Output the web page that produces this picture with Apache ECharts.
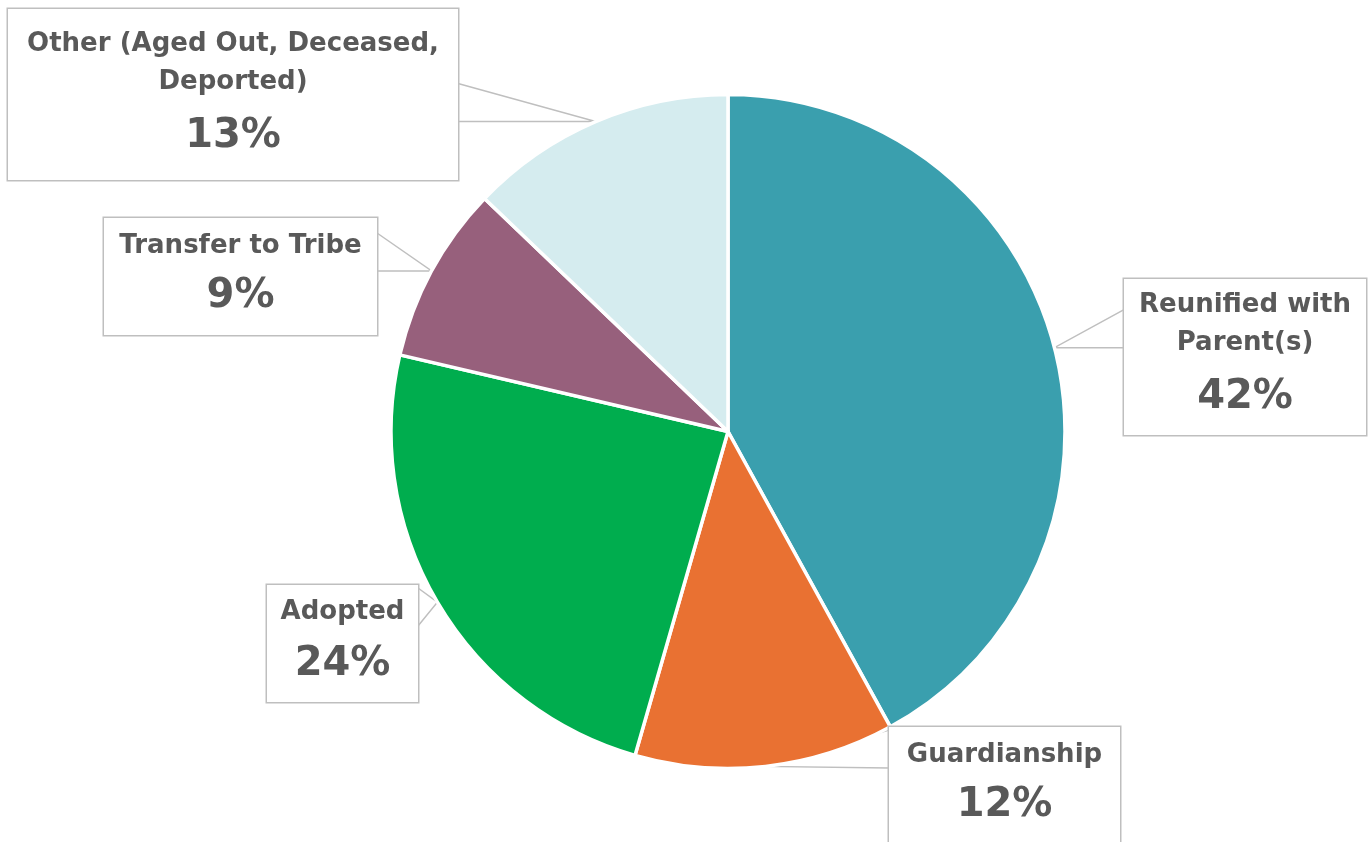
<!DOCTYPE html>
<html><head><meta charset="utf-8">
<script src="https://cdn.jsdelivr.net/npm/echarts@6/dist/echarts.min.js"></script>
<style>html,body{margin:0;padding:0;background:#fff}#c{width:1371px;height:842px}</style>
</head><body><div id="c"></div>
<script>
const categories = ['Reunified with Parent(s)', 'Guardianship', 'Adopted', 'Transfer to Tribe', 'Other (Aged Out, Deceased, Deported)'];
const values = [42.0, 12.45, 24.2, 8.5, 12.85];
const labelTexts = [['Reunified with', 'Parent(s)'], ['Guardianship'], ['Adopted'], ['Transfer to Tribe'], ['Other (Aged Out, Deceased,', 'Deported)']];
const colors = ['#3A9FAE', '#E97132', '#00AD4E', '#97607C', '#D5ECEF'];
// label box layout (style only): [centerX, centerY, width, padTop, pctLineHeight, padBottom]
const boxLayout = [
  [1245, 357, 242, 7, 72, 1],
  [1004.5, 785.5, 231, 9, 64, 6],
  [342.5, 643.5, 151, 8, 68, 3],
  [240.5, 276.5, 273, 9, 64, 6],
  [233, 94.5, 450, 16, 72, 7]
];
const NAME_LH = 38;
const TEXT_COLOR = '#595959';
const FONT = 'DejaVu Sans';

function boxHeight(i) {
  const b = boxLayout[i];
  return b[3] + labelTexts[i].length * NAME_LH + b[4] + b[5];
}

const data = categories.map(function (name, i) {
  const b = boxLayout[i];
  return {
    name: name,
    value: values[i],
    itemStyle: { color: colors[i] },
    label: {
      width: b[2],
      padding: [b[3], 0, b[5], 0],
      rich: {
        name: { fontFamily: FONT, fontWeight: 'bold', fontSize: 26, color: TEXT_COLOR, lineHeight: NAME_LH, align: 'center' },
        pct: { fontFamily: FONT, fontWeight: 'bold', fontSize: 40, color: TEXT_COLOR, lineHeight: b[4], align: 'center' }
      }
    }
  };
});

const chart = echarts.init(document.getElementById('c'), null, { renderer: 'canvas' });
chart.setOption({
  animation: false,
  backgroundColor: '#ffffff',
  series: [{
    type: 'pie',
    center: [728, 431.5],
    radius: 337,
    startAngle: 90,
    clockwise: true,
    avoidLabelOverlap: false,
    emphasis: { disabled: true },
    itemStyle: { borderColor: '#ffffff', borderWidth: 3.5 },
    data: data,
    label: {
      show: true,
      position: 'outside',
      backgroundColor: '#ffffff',
      borderColor: '#BFBFBF',
      borderWidth: 1.5,
      borderRadius: 0,
      align: 'center',
      formatter: function (p) {
        const lines = labelTexts[p.dataIndex].map(function (t) { return '{name|' + t + '}'; });
        lines.push('{pct|' + Math.round(p.percent) + '%}');
        return lines.join('\n');
      }
    },
    labelLine: {
      show: true,
      length: 20,
      length2: 20,
      lineStyle: { color: '#BFBFBF', width: 1.5 }
    },
    labelLayout: function (p) {
      const i = p.dataIndex;
      const b = boxLayout[i];
      const H = boxHeight(i);
      const res = { x: b[0], y: b[1], align: 'center', verticalAlign: 'middle' };
      const pts = p.labelLinePoints;
      if (pts && pts.length) {
        const a = pts[0];
        const left = b[0] - b[2] / 2, right = b[0] + b[2] / 2;
        const top = b[1] - H / 2, bottom = b[1] + H / 2;
        const hw = 19;
        if (a[0] > right || a[0] < left) {
          const x = a[0] > right ? right : left;
          const c = Math.min(Math.max(a[1] - hw, top + hw + 3), bottom - hw - 3);
          res.labelLinePoints = [[x, c - hw], [a[0], a[1]], [x, c + hw]];
        } else {
          const y = a[1] < top ? top : bottom;
          const c = Math.min(Math.max(a[0], left + hw + 3), right - hw - 3);
          res.labelLinePoints = [[c - hw, y], [a[0], a[1]], [c + hw, y]];
        }
      }
      return res;
    }
  }]
});
</script></body></html>
